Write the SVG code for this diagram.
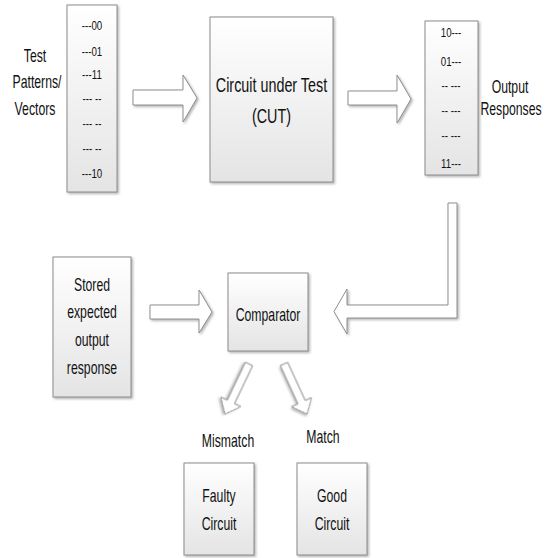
<svg xmlns="http://www.w3.org/2000/svg" width="545" height="558" viewBox="0 0 545 558">
<defs>
<linearGradient id="g" x1="0" y1="0" x2="0" y2="1"><stop offset="0" stop-color="#ffffff"/><stop offset="1" stop-color="#e4e4e4"/></linearGradient>
<filter id="sh" x="-20%" y="-20%" width="140%" height="140%"><feDropShadow dx="1.5" dy="1.5" stdDeviation="1" flood-color="#777" flood-opacity="0.55"/></filter>
<style>
.box{fill:url(#g);stroke:#8c8c8c;stroke-width:1;filter:url(#sh)}
.arr{fill:#fff;stroke:#8f8f8f;stroke-width:1;filter:url(#sh);stroke-linejoin:miter}
text{font-family:"Liberation Sans",Arial,sans-serif;fill:#111;text-anchor:middle}
.l{font-size:17.5px}
.big{font-size:20.5px}
.d{font-size:13.5px}
</style>
</defs>
<rect width="545" height="558" fill="#fff"/>
<g id="connectors">
<polygon class="arr" points="133,90 183,90 183,75 197,98 183,122 183,105 133,105"/>
<polygon class="arr" points="348,91 397,91 397,75 411,99 397,123 397,105 348,105"/>
<polygon class="arr" points="448,203 457,203 457,318 347,318 347,334 334,311.5 347,289 347,305 448,305"/>
<polygon class="arr" points="150,305 199,305 199,290 212,312 199,333 199,319 150,319"/>
<polygon class="arr" transform="translate(249,364) rotate(115.6)" points="0,-4 42,-4 42,-11 55.5,0 42,11 42,4 0,4"/>
<polygon class="arr" transform="translate(284,364) rotate(65.3)" points="0,-4 42,-4 42,-11 55,0 42,11 42,4 0,4"/>
</g>
<g id="test-label">
<text class="l" transform="translate(35,62) scale(0.7,1)">Test</text>
<text class="l" transform="translate(37,88) scale(0.7,1)">Patterns/</text>
<text class="l" transform="translate(35,115) scale(0.7,1)">Vectors</text>
</g>
<g id="test-vectors">
<rect class="box" x="67" y="5" width="50" height="187"/>
<text class="d" transform="translate(92,30) scale(0.72,1)">---00</text>
<text class="d" transform="translate(92,56) scale(0.72,1)">---01</text>
<text class="d" transform="translate(92,79) scale(0.72,1)">---11</text>
<text class="d" transform="translate(92,103) scale(0.72,1)">--- --</text>
<text class="d" transform="translate(92,128) scale(0.72,1)">--- --</text>
<text class="d" transform="translate(92,153) scale(0.72,1)">--- --</text>
<text class="d" transform="translate(92,178) scale(0.72,1)">---10</text>
</g>
<g id="cut">
<rect class="box" x="210" y="17" width="123" height="165"/>
<text class="big" transform="translate(271.5,92) scale(0.7,1)">Circuit under Test</text>
<text class="big" transform="translate(271.5,123) scale(0.7,1)">(CUT)</text>
</g>
<g id="output-responses">
<rect class="box" x="425" y="21" width="53" height="154"/>
<text class="d" transform="translate(451,37) scale(0.72,1)">10---</text>
<text class="d" transform="translate(451,66) scale(0.72,1)">01---</text>
<text class="d" transform="translate(451,90) scale(0.72,1)">-- ---</text>
<text class="d" transform="translate(451,115) scale(0.72,1)">-- ---</text>
<text class="d" transform="translate(451,140) scale(0.72,1)">-- ---</text>
<text class="d" transform="translate(451,168) scale(0.72,1)">11---</text>
</g>
<g id="output-label">
<text class="l" transform="translate(510,93) scale(0.7,1)">Output</text>
<text class="l" transform="translate(511,115) scale(0.7,1)">Responses</text>
</g>
<g id="stored">
<rect class="box" x="53" y="257" width="78" height="140"/>
<text class="l" transform="translate(92,291) scale(0.7,1)">Stored</text>
<text class="l" transform="translate(92,318) scale(0.7,1)">expected</text>
<text class="l" transform="translate(92,346) scale(0.7,1)">output</text>
<text class="l" transform="translate(92,374) scale(0.7,1)">response</text>
</g>
<g id="comparator">
<rect class="box" x="228" y="273" width="80" height="78"/>
<text class="l" transform="translate(268,321) scale(0.7,1)">Comparator</text>
</g>
<g id="mismatch-label"><text class="l" transform="translate(228,447) scale(0.7,1)">Mismatch</text></g>
<g id="match-label"><text class="l" transform="translate(323,443) scale(0.7,1)">Match</text></g>
<g id="faulty">
<rect class="box" x="184" y="463" width="70" height="92"/>
<text class="l" transform="translate(219,502) scale(0.7,1)">Faulty</text>
<text class="l" transform="translate(219,530) scale(0.7,1)">Circuit</text>
</g>
<g id="good">
<rect class="box" x="297" y="463" width="70" height="92"/>
<text class="l" transform="translate(332,502) scale(0.7,1)">Good</text>
<text class="l" transform="translate(332,530) scale(0.7,1)">Circuit</text>
</g>
</svg>
